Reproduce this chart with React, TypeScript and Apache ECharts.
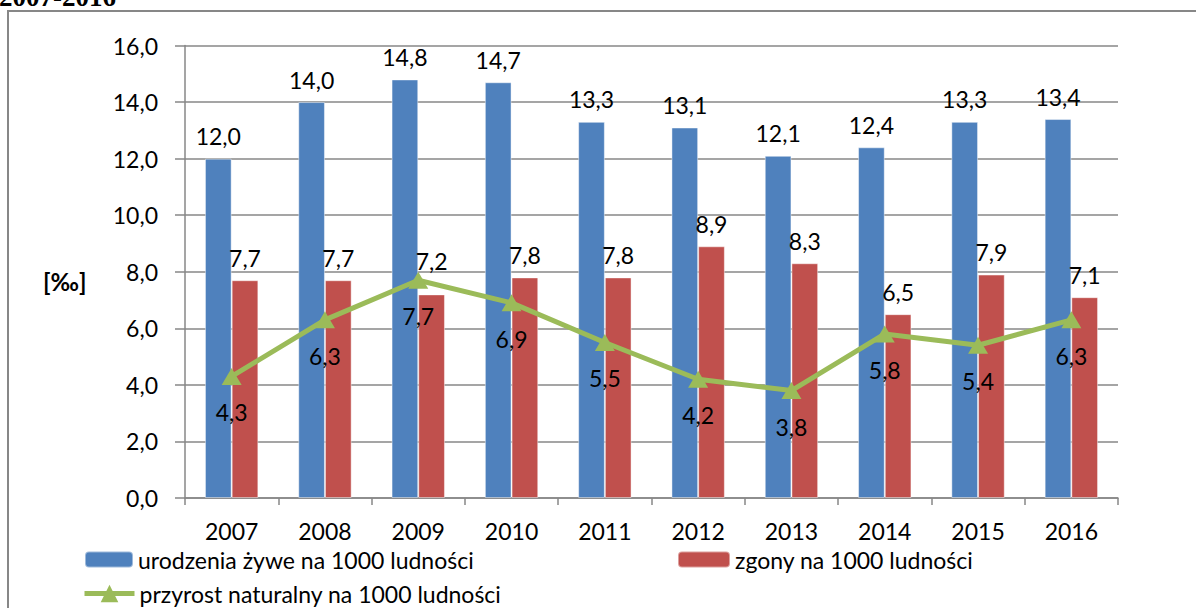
import React, { useEffect, useRef } from "react";
import * as echarts from "echarts";

const categories = ["2007", "2008", "2009", "2010", "2011", "2012", "2013", "2014", "2015", "2016"];
const births = [12.0, 14.0, 14.8, 14.7, 13.3, 13.1, 12.1, 12.4, 13.3, 13.4];
const deaths = [7.7, 7.7, 7.2, 7.8, 7.8, 8.9, 8.3, 6.5, 7.9, 7.1];
const growth = [4.3, 6.3, 7.7, 6.9, 5.5, 4.2, 3.8, 5.8, 5.4, 6.3];

const nameBirths = "urodzenia żywe na 1000 ludności";
const nameDeaths = "zgony na 1000 ludności";
const nameGrowth = "przyrost naturalny na 1000 ludności";
const unitLabel = "[‰]";
const headerText = "2007-2016";

const FONT = "Lato";
const FS = 23;
const GRAY = "#878787";
const fmt = (v: number) => v.toFixed(1).replace(".", ",");

export default function App() {
  const ref = useRef<HTMLDivElement>(null);
  useEffect(() => {
    if (!ref.current) return;
    const chart = echarts.init(ref.current, undefined, { renderer: "svg" });
    const labelBase = {
      show: true,
      color: "#000",
      fontSize: FS,
      fontFamily: FONT,
      formatter: (p: any) => fmt(p.value),
    };
    const legendText = { fontSize: FS, fontFamily: FONT, color: "#000" };
    chart.setOption({
      animation: false,
      backgroundColor: "#fff",
      graphic: [
        {
          type: "rect",
          shape: { x: 8, y: 11, width: 1400, height: 800 },
          style: { fill: "none", stroke: GRAY, lineWidth: 2 },
          silent: true,
        },
        {
          type: "text",
          x: -1,
          y: -3,
          style: {
            text: headerText,
            font: 'bold 27px "Liberation Serif", "Times New Roman", serif',
            fill: "#000",
            verticalAlign: "middle",
          },
        },
        {
          type: "text",
          x: 43,
          y: 281,
          style: {
            text: unitLabel,
            font: "bold 24px Lato",
            fill: "#000",
            verticalAlign: "middle",
          },
        },
      ],
      grid: { left: 185, right: 78, top: 45.5, bottom: 110, containLabel: false },
      legend: [
        {
          data: [nameBirths],
          left: 84,
          top: 548,
          padding: 0,
          itemWidth: 48,
          itemHeight: 16,
          textStyle: legendText,
        },
        {
          data: [nameDeaths],
          left: 677,
          top: 548,
          padding: 0,
          itemWidth: 52,
          itemHeight: 16,
          textStyle: legendText,
        },
        {
          data: [nameGrowth],
          left: 82,
          top: 582,
          padding: 0,
          itemWidth: 50,
          itemHeight: 22,
          lineStyle: { width: 5 },
          textStyle: legendText,
        },
      ],
      xAxis: {
        type: "category",
        data: categories,
        axisLine: { lineStyle: { color: GRAY, width: 1.5 } },
        axisTick: { show: true, length: 7, lineStyle: { color: GRAY, width: 1.5 } },
        axisLabel: { margin: 21, color: "#000", fontSize: FS, fontFamily: FONT },
      },
      yAxis: {
        type: "value",
        min: 0,
        max: 16,
        interval: 2,
        axisLine: { show: true, lineStyle: { color: GRAY, width: 1.5 } },
        axisTick: { show: true, length: 10, lineStyle: { color: GRAY, width: 1.5 } },
        splitLine: { lineStyle: { color: GRAY, width: 1.5 } },
        axisLabel: {
          margin: 27,
          color: "#000",
          fontSize: FS,
          fontFamily: FONT,
          formatter: (v: number) => fmt(v),
        },
      },
      series: [
        {
          name: nameBirths,
          type: "bar",
          data: births,
          barWidth: 26.7,
          barGap: "0%",
          itemStyle: { color: "#4F81BD", borderColor: "rgba(255,255,255,0.45)", borderWidth: 1 },
          label: { ...labelBase, position: "top", distance: 11 },
        },
        {
          name: nameDeaths,
          type: "bar",
          data: deaths.map((v, i) =>
            i === 2 ? { value: v, label: { distance: 22 } } : v
          ),
          barWidth: 26.7,
          itemStyle: { color: "#C0504D", borderColor: "rgba(255,255,255,0.45)", borderWidth: 1 },
          label: { ...labelBase, position: "top", distance: 11 },
        },
        {
          name: nameGrowth,
          type: "line",
          data: growth,
          z: 5,
          symbol: "triangle",
          symbolSize: [20, 17],
          lineStyle: { color: "#9BBB59", width: 5 },
          itemStyle: { color: "#9BBB59" },
          label: { ...labelBase, position: "bottom", distance: 16 },
        },
      ],
    });
    return () => chart.dispose();
  }, []);
  return (
    <div
      ref={ref}
      style={{ position: "absolute", left: 0, top: 0, width: 1196, height: 608 }}
    />
  );
}
